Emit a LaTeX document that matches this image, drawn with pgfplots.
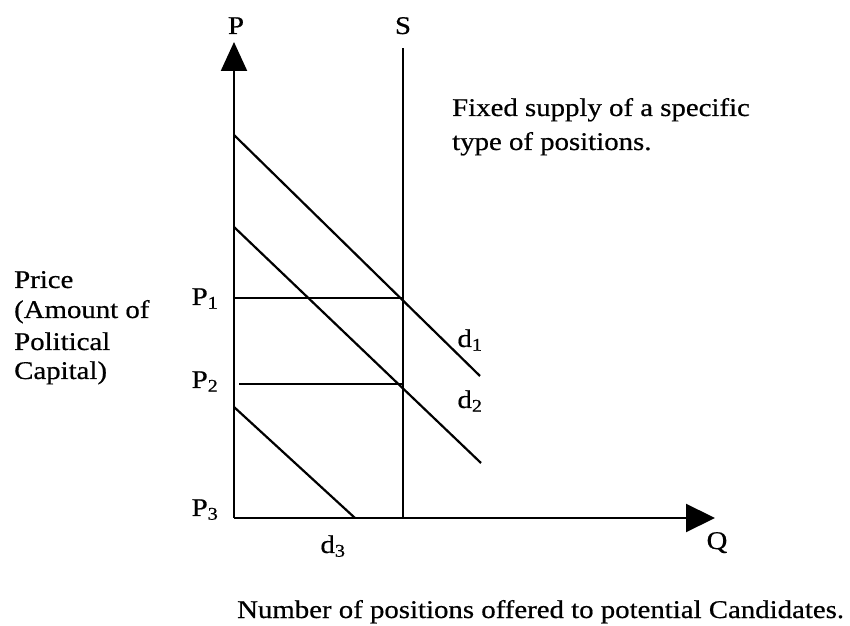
\documentclass[border=0pt]{standalone}
\usepackage{fontspec}
\setmainfont{Liberation Serif}[FakeStretch=1.13, FakeBold=0.6]
\usepackage{pgfplots}
\pgfplotsset{compat=1.18}
\usetikzlibrary{arrows.meta}

\begin{document}
\begin{tikzpicture}[every node/.append style={font=\fontsize{25.5bp}{30bp}\selectfont, inner sep=0pt}]
\useasboundingbox (0,0) rectangle (850bp,626bp);
\begin{axis}[
  at={(0,0)}, anchor=south west,
  scale only axis, width=850bp, height=626bp,
  xmin=-234, xmax=616, ymin=-108, ymax=518,
  hide axis, clip=false,
]
% axes with filled arrow heads
\addplot[black, line width=2.2bp, -{Triangle[length=29bp,width=26bp]}] coordinates {(0,0) (0,476)};
\addplot[black, line width=2.2bp, -{Triangle[length=29bp,width=28bp]}] coordinates {(0,0) (481,0)};
% fixed supply
\addplot[black, line width=2.2bp] coordinates {(169,0) (169,470)};
% price levels
\addplot[black, line width=2bp] coordinates {(0,220) (169,220)};
\addplot[black, line width=2bp] coordinates {(5,134) (169,134)};
% demand curves
\addplot[black, line width=2.2bp] coordinates {(0,383) (246,142)};
\addplot[black, line width=2.2bp] coordinates {(0,291) (247,55)};
\addplot[black, line width=2.2bp] coordinates {(0,111) (121,0)};

% labels
\node[anchor=base] at (axis cs:2,484) {P};
\node[anchor=base] at (axis cs:169,484) {S};
\node[anchor=base] at (axis cs:-29,213) {P\textsubscript{1}};
\node[anchor=base] at (axis cs:-29,130) {P\textsubscript{2}};
\node[anchor=base] at (axis cs:-29,2) {P\textsubscript{3}};
\node[anchor=base] at (axis cs:236,171) {d\textsubscript{1}};
\node[anchor=base] at (axis cs:236,110) {d\textsubscript{2}};
\node[anchor=base] at (axis cs:99,-35) {d\textsubscript{3}};
\node[anchor=base] at (axis cs:483,-31) {Q};
\node[anchor=base west] at (axis cs:218,402) {Fixed supply of a specific};
\node[anchor=base west] at (axis cs:218,368) {type of positions.};
\node[anchor=base west] at (axis cs:-220,230) {Price};
\node[anchor=base west] at (axis cs:-220,200) {(Amount of};
\node[anchor=base west] at (axis cs:-220,168) {Political};
\node[anchor=base west] at (axis cs:-220,139) {Capital)};
\node[anchor=base west] at (axis cs:3,-100) {Number of positions offered to potential Candidates.};
\end{axis}
\end{tikzpicture}
\end{document}
